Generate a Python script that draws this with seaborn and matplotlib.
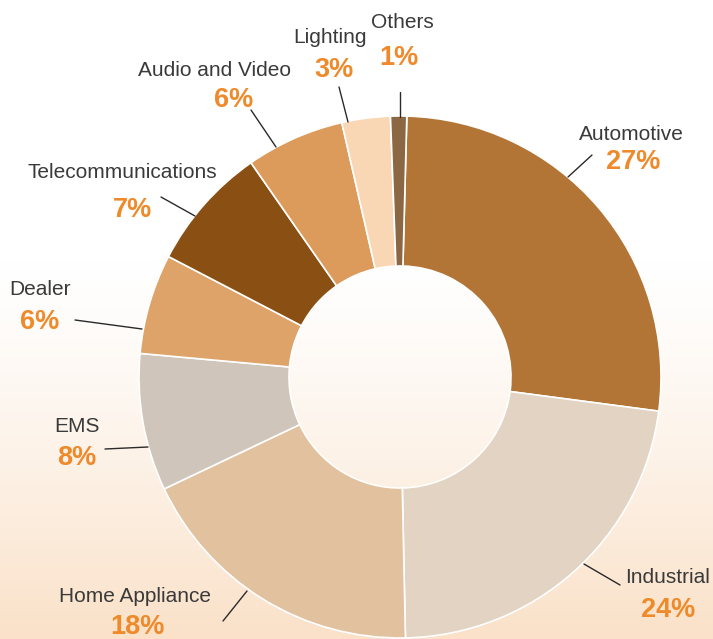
import numpy as np
import matplotlib.pyplot as plt
import seaborn as sns

# segments clockwise from 12 o'clock
sectors = ['Automotive', 'Industrial', 'Home Appliance', 'EMS', 'Dealer',
           'Telecommunications', 'Audio and Video', 'Lighting', 'Others']
# printed percentages
pct_labels = [27, 24, 18, 8, 6, 7, 6, 3, 1]
slice_sizes = [26.7, 22.6, 18.3, 8.5, 6.2, 7.7, 6.1, 3.0, 1.0]
colors = ['#b37536', '#e2d3c2', '#e2c19f', '#d0c5ba', '#dea368',
          '#8a5013', '#dc9b5a', '#f9d6b4', '#8b6744']

# label layout in pixel coords: (label x, label baseline, pct x, pct baseline)
label_pos = {
    'Automotive': (631, 140, 633, 169),
    'Industrial': (668, 583, 668, 617),
    'Home Appliance': (135, 602, 137, 634),
    'EMS': (77, 432, 77, 465),
    'Dealer': (40, 295, 40, 329),
    'Telecommunications': (122, 178, 132, 217),
    'Audio and Video': (215, 76, 234, 107),
    'Lighting': (330, 43, 334, 77),
    'Others': (402, 28, 399, 65),
}
# leader lines (start, end) in pixel coords
leaders = {
    'Automotive': ((568, 177), (592, 155)),
    'Industrial': ((584, 564), (620, 585)),
    'Home Appliance': ((247, 591), (223, 621)),
    'EMS': ((148, 447), (105, 449)),
    'Dealer': ((142, 329), (75, 320)),
    'Telecommunications': ((195, 216), (161, 197)),
    'Audio and Video': ((276, 147), (251, 110)),
    'Lighting': ((348, 122), (339, 87)),
    'Others': ((400, 117), (400, 92)),
}

W, H = 713, 639
sns.set_theme(style='white')
plt.rcParams['font.family'] = ['Liberation Sans', 'DejaVu Sans']

fig = plt.figure(figsize=(W / 100, H / 100), dpi=100)
ax = fig.add_axes([0, 0, 1, 1])

# soft peach background fading in from the middle
t = np.clip((np.arange(H) - 260) / (H - 260), 0, 1) ** 1.3
top = np.array([1.0, 1.0, 1.0])
bottom = np.array([0xfa, 0xe1, 0xc8]) / 255
grad = top[None, :] * (1 - t[:, None]) + bottom[None, :] * t[:, None]
ax.imshow(grad[:, None, :], extent=(0, W, H, 0), aspect='auto', zorder=0)

# y axis runs downwards, so counterclock here reads clockwise on screen
ax.pie(slice_sizes, colors=colors, startangle=-88.5, counterclock=True,
       center=(400, 377), radius=261, frame=True,
       wedgeprops=dict(width=150, edgecolor='white', linewidth=1.2))

ax.set_xlim(0, W)
ax.set_ylim(H, 0)
ax.set_axis_off()

for name, pct in zip(sectors, pct_labels):
    lx, ly, px, py = label_pos[name]
    ax.text(lx, ly, name, ha='center', va='baseline', fontsize=15, color='#3a3a3a')
    ax.text(px, py, f"{pct}%", ha='center', va='baseline',
            fontsize=19.5, fontweight='bold', color='#ef8a2b')
    (x0, y0), (x1, y1) = leaders[name]
    ax.plot([x0, x1], [y0, y1], color='#2a2a2a', lw=1.0)

fig.savefig('out.png', dpi=100)
